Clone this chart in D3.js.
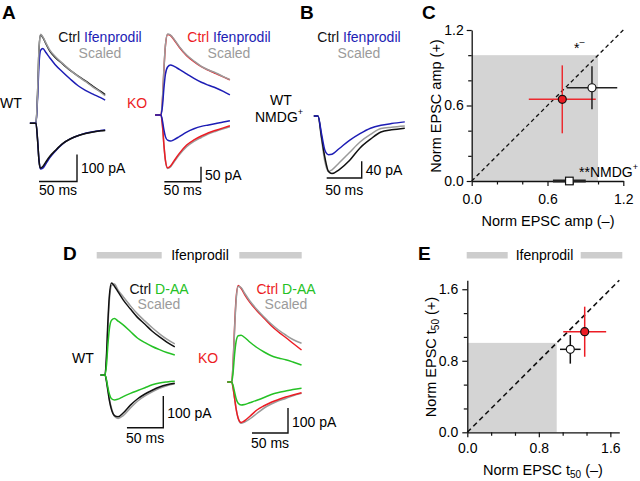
<!DOCTYPE html>
<html><head><meta charset="utf-8">
<script src="https://cdn.jsdelivr.net/npm/d3@7"></script>
<style>
body{margin:0;background:#fff}
svg{display:block}
text{font-family:"Liberation Sans",Arial,Helvetica,sans-serif;white-space:pre}
</style>
</head><body>
<svg id="fig" width="640" height="481"></svg>
<script>
// ---------------- DATA (time in ms, current in pA) ----------------
const A_WT_T = [-8, 0, 2, 4, 6, 9, 13, 18, 25, 35, 45, 55, 65, 75, 85, 91];
const A_WT_CTRL_POS = [0,0,105,275,328,318,295,268,245,220,196,176,157,137,118,106];
const A_WT_IFEN_POS = [0,0,90,220,270,277,262,243,218,190,164,140,122,108,95,86];
const A_WT_SCAL_POS = [0,0,110,280,330,320,298,272,248,222,197,175,155,134,115,102];
const A_WT_CTRL_NEG = [0,0,-60,-140,-166,-160,-143,-123,-102,-75,-58,-46,-38,-32,-28,-27];
const A_WT_IFEN_NEG = [0,0,-58,-138,-169,-166,-150,-128,-104,-76,-58,-46,-37,-31,-27,-25];
const A_WT_SCAL_NEG = [0,0,-59,-139,-167,-163,-146,-125,-103,-76,-58,-46,-38,-32,-28,-26];

const A_KO_T = [-8, 0, 2, 4, 6, 9, 13, 18, 25, 35, 45, 55, 65, 75, 85, 94];
const A_KO_CTRL_POS = [0,0,50,150,230,268,265,250,226,198,178,161,149,138,127,117];
const A_KO_SCAL_POS = [0,0,55,155,232,270,266,252,228,200,180,162,150,140,128,118];
const A_KO_IFEN_POS = [0,0,30,90,135,160,167,162,152,137,122,109,99,90,79,67];
const A_KO_CTRL_NEG = [0,0,-35,-100,-150,-176,-170,-152,-128,-100,-83,-70,-59,-51,-43,-36];
const A_KO_SCAL_NEG = [0,0,-36,-102,-152,-178,-173,-156,-133,-106,-88,-75,-63,-54,-46,-39];
const A_KO_IFEN_NEG = [0,0,-20,-50,-72,-84,-87,-82,-72,-57,-46,-38,-33,-28,-23,-19];

const B_T = [-6, 0, 5, 10, 15, 20, 30, 45, 60, 75, 90, 105, 124];
const B_CTRL = [0,0,-50,-100,-132,-137,-128,-106,-76,-55,-38,-33,-29];
const B_SCAL = [0,0,-55,-110,-132,-128,-112,-87,-62,-44,-30,-27,-24];
const B_IFEN = [0,0,-42,-82,-92,-91,-78,-58,-42,-29,-22,-18,-14];

const D_WT_T = [-6, 0, 2, 4, 6, 9, 13, 18, 25, 35, 45, 55, 65, 75, 85, 96];
const D_WT_CTRL_POS = [0,0,60,170,250,290,280,262,237,208,181,160,138,120,104,89];
const D_WT_SCAL_POS = [0,0,50,150,235,282,287,268,247,218,192,170,149,130,113,98];
const D_WT_DAA_POS = [0,0,30,95,145,173,178,170,158,137,116,102,90,80,71,63];
const D_WT_CTRL_NEG = [0,0,-20,-50,-80,-110,-128,-132,-120,-95,-75,-60,-48,-38,-31,-26];
const D_WT_SCAL_NEG = [0,0,-18,-45,-75,-105,-130,-137,-128,-104,-82,-66,-53,-42,-34,-28];
const D_WT_DAA_NEG = [0,0,-15,-40,-60,-75,-79,-76,-68,-58,-49,-40,-31,-25,-22,-20];

const D_KO_T = [-6, 0, 2, 4, 6, 9, 13, 18, 25, 35, 45, 55, 65, 75, 85, 97];
const D_KO_CTRL_POS = [0,0,80,220,330,386,375,350,320,285,255,225,200,178,155,128];
const D_KO_SCAL_POS = [0,0,75,210,320,382,378,355,325,290,260,232,208,188,170,155];
const D_KO_DAA_POS = [0,0,40,110,160,185,187,178,160,138,120,105,96,89,80,68];
const D_KO_CTRL_NEG = [0,0,-25,-65,-105,-145,-162,-155,-138,-112,-95,-81,-70,-60,-52,-43];
const D_KO_SCAL_NEG = [0,0,-25,-65,-105,-145,-165,-160,-148,-126,-104,-88,-75,-66,-55,-45];
const D_KO_DAA_NEG = [0,0,-15,-40,-65,-85,-92,-90,-83,-73,-62,-50,-42,-36,-30,-25];

// Panel C: Norm EPSC amp, points: KO (red), WT (open), NMDG+ (square)
const C_GROUP = ["KO", "WT", "NMDG"];
const C_X = [0.717, 0.952, 0.773];
const C_Y = [0.649, 0.741, 0.0];
const C_XERR = [0.265, 0.20, 0.13];
const C_YERR = [0.27, 0.17, 0.0];
const C_TICKS = [0, 0.2, 0.4, 0.6, 0.8, 1.0, 1.2];
const C_LABELS = [0, 0.6, 1.2];

// Panel E: Norm EPSC t50
const E_GROUP = ["WT", "KO"];
const E_X = [1.152, 1.313];
const E_Y = [0.928, 1.125];
const E_XERR = [0.115, 0.24];
const E_YERR = [0.16, 0.28];
const E_TICKS = [0, 0.8/3, 1.6/3, 0.8, 3.2/3, 4/3, 1.6];
const E_LABELS = [0, 0.8, 1.6];

// ---------------- STYLE ----------------
const COL = {black:"#111111", gray:"#9b9b9b", blue:"#1d1db5", red:"#ec1c24", green:"#25c125"};
const FONT = 14;
const svg = d3.select("#fig");
svg.append("rect").attr("width",640).attr("height",481).attr("fill","#fff");

function text(x, y, s, o = {}) {
  return svg.append("text").attr("x", x).attr("y", y)
    .attr("font-size", o.size || FONT).attr("font-weight", o.weight || "normal")
    .attr("text-anchor", o.anchor || "start").attr("fill", o.fill || "#000").text(s);
}
function multi(x, y, parts, anchor = "middle") {
  const t = svg.append("text").attr("x", x).attr("y", y).attr("font-size", FONT).attr("text-anchor", anchor);
  parts.forEach(([s, c]) => t.append("tspan").attr("fill", c).text(s));
  return t;
}

// ---------------- TRACE PANELS ----------------
function tracePanel(cfg, T, traces) {
  const x = d3.scaleLinear().domain([0, 50]).range([cfg.x0, cfg.x0 + 50 * cfg.ms]);
  const y = d3.scaleLinear().domain([0, 100]).range([cfg.y0, cfg.y0 - 100 * cfg.pa]);
  const line = d3.line().x((d, i) => x(T[i])).y(d => y(d)).curve(d3.curveMonotoneX);
  const g = svg.append("g");
  traces.forEach(([vals, color]) => {
    g.append("path").attr("d", line(vals)).attr("fill", "none")
      .attr("stroke", color).attr("stroke-width", 1.5).attr("stroke-linejoin", "round");
  });
  return {x, y};
}
function scaleBar(sc, cx, cy, ms, pa, paLabel, msLabelY, paLabelY) {
  const w = sc.x(ms) - sc.x(0), h = sc.y(0) - sc.y(pa);
  svg.append("path").attr("d", `M${cx - w},${cy}H${cx}V${cy - h}`)
    .attr("fill", "none").attr("stroke", "#111").attr("stroke-width", 1.4);
  text(cx - w / 2, msLabelY, ms + " ms", {anchor: "middle"});
  text(cx + 4, paLabelY, pa + " " + paLabel);
}

// Panel A WT
const sAW = tracePanel({x0: 36, y0: 123.3, ms: 0.76, pa: 0.27}, A_WT_T, [
  [A_WT_CTRL_POS, COL.black], [A_WT_IFEN_POS, COL.blue], [A_WT_SCAL_POS, COL.gray],
  [A_WT_SCAL_NEG, COL.gray], [A_WT_IFEN_NEG, COL.blue], [A_WT_CTRL_NEG, COL.black]
]);
scaleBar(sAW, 77, 181.5, 50, 100, "pA", 195, 173);
// Panel A KO
const sAK = tracePanel({x0: 161, y0: 115, ms: 0.733, pa: 0.3}, A_KO_T, [
  [A_KO_CTRL_POS, COL.red], [A_KO_SCAL_POS, COL.gray], [A_KO_IFEN_POS, COL.blue],
  [A_KO_SCAL_NEG, COL.gray], [A_KO_CTRL_NEG, COL.red], [A_KO_IFEN_NEG, COL.blue]
]);
scaleBar(sAK, 201, 181.7, 50, 50, "pA", 195, 180);
// Panel B
const sB = tracePanel({x0: 318, y0: 116, ms: 0.7, pa: 0.42}, B_T, [
  [B_SCAL, COL.gray], [B_CTRL, COL.black], [B_IFEN, COL.blue]
]);
scaleBar(sB, 361.7, 178, 50, 40, "pA", 195, 175);
// Panel D WT
const sDW = tracePanel({x0: 105, y0: 375, ms: 0.727, pa: 0.317}, D_WT_T, [
  [D_WT_SCAL_POS, COL.gray], [D_WT_CTRL_POS, COL.black], [D_WT_DAA_POS, COL.green],
  [D_WT_SCAL_NEG, COL.gray], [D_WT_CTRL_NEG, COL.black], [D_WT_DAA_NEG, COL.green]
]);
scaleBar(sDW, 163.3, 427.7, 50, 100, "pA", 443, 418);
// Panel D KO
const sDK = tracePanel({x0: 231.7, y0: 382, ms: 0.72, pa: 0.25}, D_KO_T, [
  [D_KO_CTRL_POS, COL.red], [D_KO_SCAL_POS, COL.gray], [D_KO_DAA_POS, COL.green],
  [D_KO_SCAL_NEG, COL.gray], [D_KO_CTRL_NEG, COL.red], [D_KO_DAA_NEG, COL.green]
]);
scaleBar(sDK, 288, 433, 50, 100, "pA", 448, 427);

// Trace labels
multi(100, 42, [["Ctrl ", COL.black], ["Ifenprodil", COL.blue]]);
text(100, 58, "Scaled", {anchor: "middle", fill: COL.gray});
multi(229, 42, [["Ctrl ", COL.red], ["Ifenprodil", COL.blue]]);
text(229, 58, "Scaled", {anchor: "middle", fill: COL.gray});
text(0, 108, "WT");
text(127, 108, "KO", {fill: COL.red});

multi(359, 42, [["Ctrl ", COL.black], ["Ifenprodil", COL.blue]]);
text(359, 58, "Scaled", {anchor: "middle", fill: COL.gray});
text(270, 105, "WT");
const nm = text(255, 122, "NMDG");
nm.append("tspan").attr("font-size", 9).attr("dy", -7).text("+");

multi(159, 294, [["Ctrl ", COL.black], ["D-AA", COL.green]]);
text(159, 309, "Scaled", {anchor: "middle", fill: COL.gray});
multi(286, 294, [["Ctrl ", COL.red], ["D-AA", COL.green]]);
text(286, 309, "Scaled", {anchor: "middle", fill: COL.gray});
text(72, 363, "WT");
text(198, 363, "KO", {fill: COL.red});

// Ifenprodil headers
function header(a0, a1, b0, b1, cx) {
  svg.append("rect").attr("x", a0).attr("y", 252).attr("width", a1 - a0).attr("height", 6.5).attr("fill", "#cdcdcd");
  svg.append("rect").attr("x", b0).attr("y", 252).attr("width", b1 - b0).attr("height", 6.5).attr("fill", "#cdcdcd");
  text(cx, 260, "Ifenprodil", {anchor: "middle"});
}
header(96.7, 161.7, 239.3, 301.7, 200);
header(466.7, 507.7, 580.7, 622.3, 544.5);

// Panel letters
[["A", 2, 18.5], ["B", 300, 18.5], ["C", 422, 18.5], ["D", 63, 260], ["E", 418, 260]]
  .forEach(([s, x, y]) => text(x, y, s, {size: 19, weight: "bold"}));

// ---------------- SCATTER PANELS ----------------
function scatterPanel(cfg) {
  const x = d3.scaleLinear().domain([0, cfg.max]).range([cfg.left, cfg.right]);
  const y = d3.scaleLinear().domain([0, cfg.max]).range([cfg.bottom, cfg.top]);
  const g = svg.append("g");
  g.append("rect").attr("x", x(0)).attr("y", y(1)).attr("width", x(1) - x(0)).attr("height", y(0) - y(1)).attr("fill", "#d4d4d4");
  g.append("line").attr("x1", x(0)).attr("y1", y(0)).attr("x2", x(cfg.diag)).attr("y2", y(cfg.diag))
    .attr("stroke", "#111").attr("stroke-width", cfg.dashW).attr("stroke-dasharray", cfg.dash);
  const isMajor = d => cfg.labels.some(l => Math.abs(l - d) < 1e-6);
  const fmt = d => isMajor(d) ? d3.format(".1f")(d) : "";
  const ax = g.append("g").attr("transform", `translate(0,${y(0)})`)
    .call(d3.axisBottom(x).tickValues(cfg.ticks).tickFormat(fmt).tickSizeOuter(0).tickSizeInner(5).tickPadding(cfg.xPad));
  const ay = g.append("g").attr("transform", `translate(${x(0)},0)`)
    .call(d3.axisLeft(y).tickValues(cfg.ticks).tickFormat(fmt).tickSizeOuter(0).tickSizeInner(5).tickPadding(cfg.yPad));
  [ax, ay].forEach(a => {
    a.attr("font-family", null).attr("font-size", FONT);
    a.select(".domain").attr("stroke", "#111").attr("stroke-width", 1.3);
    a.selectAll(".tick line").attr("stroke", "#111").attr("stroke-width", 1.2);
    a.selectAll(".tick text").attr("fill", "#000");
  });
  ax.selectAll(".tick line").attr("y2", d => isMajor(d) ? 5 : 3.5);
  ay.selectAll(".tick line").attr("x2", d => isMajor(d) ? -5 : -3.5);
  return {x, y, g};
}

// Panel C
const sc = scatterPanel({max: 1.2, left: 471.7, right: 623.3, bottom: 181, top: 30, diag: 1.2,
  ticks: C_TICKS, labels: C_LABELS, xPad: 8, yPad: 3, dash: "4,3", dashW: 1.3});
C_GROUP.forEach((grp, i) => {
  const cx = sc.x(C_X[i]), cy = sc.y(C_Y[i]);
  const ec = grp === "KO" ? "#ec2a2f" : "#222";
  const ew = grp === "NMDG" ? 3 : 1.5;
  sc.g.append("line").attr("x1", sc.x(C_X[i] - C_XERR[i])).attr("x2", sc.x(C_X[i] + C_XERR[i]))
    .attr("y1", cy).attr("y2", cy).attr("stroke", ec).attr("stroke-width", ew);
  if (C_YERR[i] > 0) sc.g.append("line").attr("x1", cx).attr("x2", cx)
    .attr("y1", sc.y(C_Y[i] - C_YERR[i])).attr("y2", sc.y(C_Y[i] + C_YERR[i])).attr("stroke", ec).attr("stroke-width", ew);
});
C_GROUP.forEach((grp, i) => {
  const cx = sc.x(C_X[i]), cy = sc.y(C_Y[i]);
  if (grp === "NMDG") {
    sc.g.append("rect").attr("x", cx - 3.8).attr("y", cy - 3.8).attr("width", 7.6).attr("height", 7.6)
      .attr("fill", "#fff").attr("stroke", "#111").attr("stroke-width", 1.2);
  } else {
    sc.g.append("circle").attr("cx", cx).attr("cy", cy).attr("r", 4)
      .attr("fill", grp === "KO" ? COL.red : "#fff").attr("stroke", "#111").attr("stroke-width", 1.2);
  }
});
const st = text(574, 53, "*");
st.append("tspan").attr("font-size", 9).attr("dy", -8.5).text("\u2013");
const nmc = text(579, 177, "**NMDG");
nmc.append("tspan").attr("font-size", 9).attr("dy", -7.5).text("+");
text(548, 226, "Norm EPSC amp (\u2013)", {anchor: "middle", size: 14.5});
svg.append("text").attr("transform", "translate(441,106) rotate(-90)").attr("text-anchor", "middle")
  .attr("font-size", 14.5).text("Norm EPSC amp (+)");

// Panel E
const se = scatterPanel({max: 1.7, left: 467.3, right: 619.3, bottom: 432.3, top: 280.3, diag: 1.7,
  ticks: E_TICKS, labels: E_LABELS, xPad: 6, yPad: 4, dash: "5,3.5", dashW: 1.6});
E_GROUP.forEach((grp, i) => {
  const cx = se.x(E_X[i]), cy = se.y(E_Y[i]);
  const ec = grp === "KO" ? "#ec1c24" : "#111";
  se.g.append("line").attr("x1", se.x(E_X[i] - E_XERR[i])).attr("x2", se.x(E_X[i] + E_XERR[i]))
    .attr("y1", cy).attr("y2", cy).attr("stroke", ec).attr("stroke-width", 1.5);
  se.g.append("line").attr("x1", cx).attr("x2", cx)
    .attr("y1", se.y(E_Y[i] - E_YERR[i])).attr("y2", se.y(E_Y[i] + E_YERR[i])).attr("stroke", ec).attr("stroke-width", 1.5);
});
E_GROUP.forEach((grp, i) => {
  se.g.append("circle").attr("cx", se.x(E_X[i])).attr("cy", se.y(E_Y[i])).attr("r", 4)
    .attr("fill", grp === "KO" ? COL.red : "#fff").attr("stroke", "#111").attr("stroke-width", 1.2);
});
const ex = text(543, 475, "Norm EPSC t", {anchor: "middle", size: 14.5});
ex.append("tspan").attr("font-size", 10).attr("dy", 3).text("50");
ex.append("tspan").attr("dy", -3).text(" (\u2013)");
const ey = svg.append("text").attr("transform", "translate(436,357) rotate(-90)").attr("text-anchor", "middle")
  .attr("font-size", 14.5).text("Norm EPSC t");
ey.append("tspan").attr("font-size", 10).attr("dy", 3).text("50");
ey.append("tspan").attr("dy", -3).text(" (+)");
</script>
</body></html>
